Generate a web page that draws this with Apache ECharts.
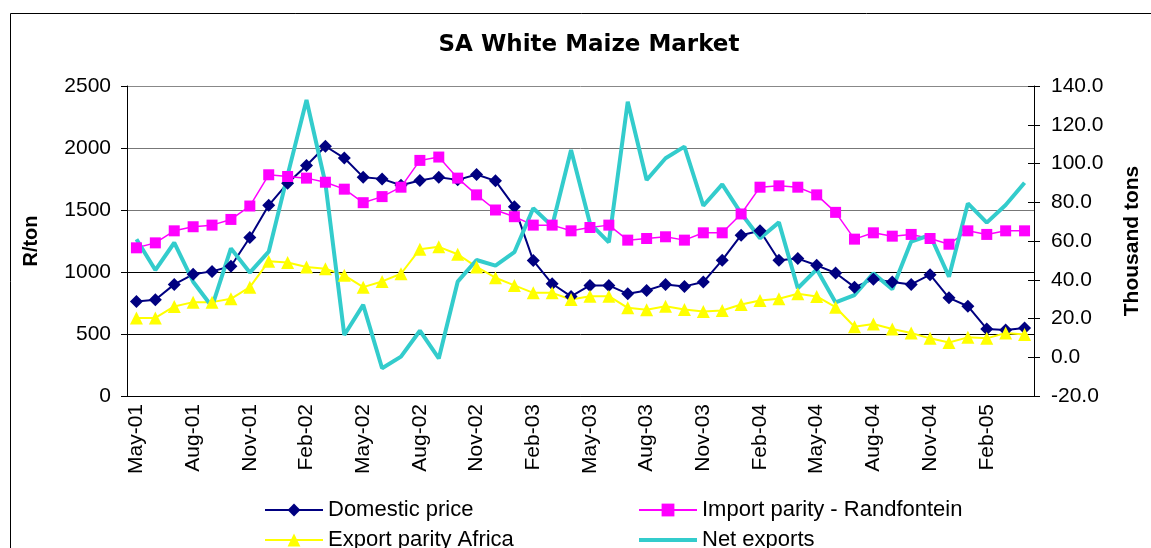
<!DOCTYPE html>
<html lang="en">
<head>
<meta charset="UTF-8">
<title>SA White Maize Market</title>
<style>
  html, body { margin: 0; padding: 0; background: #fff; }
  #box { width: 1151px; height: 548px; }
</style>
<script src="https://cdn.jsdelivr.net/npm/echarts@6/dist/echarts.min.js"></script>
</head>
<body>
<div id="box"></div>
<script>
  // monthly, May-01 .. Apr-05
  var months = ['May-01','Jun-01','Jul-01','Aug-01','Sep-01','Oct-01','Nov-01','Dec-01',
    'Jan-02','Feb-02','Mar-02','Apr-02','May-02','Jun-02','Jul-02','Aug-02','Sep-02','Oct-02','Nov-02','Dec-02',
    'Jan-03','Feb-03','Mar-03','Apr-03','May-03','Jun-03','Jul-03','Aug-03','Sep-03','Oct-03','Nov-03','Dec-03',
    'Jan-04','Feb-04','Mar-04','Apr-04','May-04','Jun-04','Jul-04','Aug-04','Sep-04','Oct-04','Nov-04','Dec-04',
    'Jan-05','Feb-05','Mar-05','Apr-05'];

  // R/ton
  var domestic = [762,776,900,981,1005,1046,1278,1538,1716,1859,2014,1919,1765,1751,1700,1738,
    1765,1743,1786,1735,1527,1092,905,803,892,892,824,851,900,884,919,1095,
    1297,1332,1095,1108,1054,992,878,941,919,900,978,792,724,541,532,549];
  var importParity = [1195,1235,1332,1365,1378,1424,1532,1784,1770,1757,1724,1668,1559,1608,1684,1900,
    1927,1757,1622,1500,1446,1378,1378,1332,1359,1378,1257,1270,1284,1257,1316,1316,
    1468,1684,1695,1684,1622,1481,1265,1316,1289,1303,1270,1224,1332,1303,1332,1332];
  var exportParity = [630,630,722,757,757,784,878,1086,1076,1041,1027,973,878,924,986,1184,
    1203,1143,1041,954,892,832,832,778,805,805,711,695,724,697,681,689,
    738,770,784,824,803,716,559,581,541,508,465,432,473,465,508,495];
  // thousand tons
  var netExports = [60.9,45.0,59.1,39.0,26.1,56.2,43.7,54.5,94.0,132.8,89.8,11.5,27.0,-5.7,0.3,13.7,
    -0.6,39.0,50.2,47.3,54.2,76.9,67.7,107.0,69.1,59.3,131.9,91.5,102.7,108.7,78.2,89.2,
    74.3,61.4,69.6,35.6,45.4,28.3,32.1,43.3,35.1,59.7,63.1,41.6,79.4,69.5,78.6,90.1];

  var font = '"Liberation Sans", Arial, sans-serif';

  var myChart = echarts.init(document.getElementById('box'));

  var legendText = { fontFamily: font, fontSize: 22, color: '#000' };

  var option = {
    backgroundColor: '#fff',
    animation: false,
    title: {
      text: 'SA White Maize Market',
      left: 584,
      top: 29,
      textAlign: 'center',
      textStyle: { fontFamily: '"DejaVu Sans", sans-serif', fontWeight: 'bold', fontSize: 23, color: '#000' }
    },
    graphic: [{
      type: 'rect',
      shape: { x: 10.5, y: 13.5, width: 1300, height: 700 },
      style: { fill: 'none', stroke: '#000', lineWidth: 1 },
      silent: true
    }],
    legend: [{
      data: ['Domestic price', 'Export parity Africa'],
      orient: 'vertical',
      left: 259,
      top: 494,
      height: 120,
      itemWidth: 58,
      itemHeight: 16,
      itemGap: 8,
      textStyle: legendText
    }, {
      data: ['Import parity - Randfontein', {
        name: 'Net exports',
        icon: 'path://M0,0 L58,0 L58,4 L0,4 Z'
      }],
      orient: 'vertical',
      left: 633,
      top: 494,
      height: 120,
      itemWidth: 58,
      itemHeight: 16,
      itemGap: 8,
      textStyle: legendText
    }],
    grid: { left: 127, right: 116, top: 86, bottom: 152, containLabel: false },
    xAxis: {
      type: 'category',
      data: months,
      boundaryGap: true,
      axisLine: { lineStyle: { color: '#000', width: 1 } },
      axisTick: { interval: 2, length: 6, lineStyle: { color: '#000' } },
      axisLabel: { interval: 2, rotate: 90, margin: 8, fontFamily: font, fontSize: 21, color: '#000' },
      splitLine: { show: false }
    },
    yAxis: [{
      type: 'value',
      min: 0, max: 2500, interval: 500,
      name: 'R/ton',
      nameLocation: 'middle',
      nameRotate: 90,
      nameGap: 86,
      nameTextStyle: { fontFamily: font, fontWeight: 'bold', fontSize: 20, color: '#000' },
      axisLine: { show: true, lineStyle: { color: '#000', width: 1 } },
      axisTick: { show: true, length: 6, lineStyle: { color: '#000' } },
      axisLabel: { margin: 16, fontFamily: font, fontSize: 21, color: '#000',
        formatter: function (v) { return String(v); } },
      splitLine: { show: true, lineStyle: { color: ['#000', '#000', '#000', '#777', '#777', '#888'], width: 1 } }
    }, {
      type: 'value',
      position: 'right',
      min: -20, max: 140, interval: 20,
      name: 'Thousand tons',
      nameLocation: 'middle',
      nameRotate: 90,
      nameGap: 88,
      nameTextStyle: { fontFamily: font, fontWeight: 'bold', fontSize: 21, color: '#000' },
      axisLine: { show: true, lineStyle: { color: '#000', width: 1 } },
      axisTick: { show: true, length: 6, lineStyle: { color: '#000' } },
      axisLabel: { margin: 17, fontFamily: font, fontSize: 21, color: '#000',
        formatter: function (v) { return v.toFixed(1); } },
      splitLine: { show: false }
    }, {
      // inner half of the crossing ticks on the right axis
      type: 'value',
      position: 'right',
      min: -20, max: 140, interval: 20,
      axisLine: { show: false },
      axisTick: { show: true, inside: true, length: 6, lineStyle: { color: '#000' } },
      axisLabel: { show: false },
      splitLine: { show: false }
    }],
    series: [{
      name: 'Domestic price',
      type: 'line',
      data: domestic,
      symbol: 'diamond',
      symbolSize: 13,
      showAllSymbol: true,
      itemStyle: { color: '#000080' },
      lineStyle: { color: '#000080', width: 2 }
    }, {
      name: 'Import parity - Randfontein',
      type: 'line',
      data: importParity,
      symbol: 'rect',
      symbolSize: 11,
      showAllSymbol: true,
      itemStyle: { color: '#FF00FF' },
      lineStyle: { color: '#FF00FF', width: 1.5 }
    }, {
      name: 'Export parity Africa',
      type: 'line',
      data: exportParity,
      symbol: 'triangle',
      symbolSize: 13,
      showAllSymbol: true,
      itemStyle: { color: '#FFFF00' },
      lineStyle: { color: '#FFFF00', width: 2 }
    }, {
      name: 'Net exports',
      type: 'line',
      yAxisIndex: 1,
      data: netExports,
      symbol: 'none',
      itemStyle: { color: '#33CCCC' },
      lineStyle: { color: '#33CCCC', width: 4 }
    }]
  };

  myChart.setOption(option);
</script>
</body>
</html>
